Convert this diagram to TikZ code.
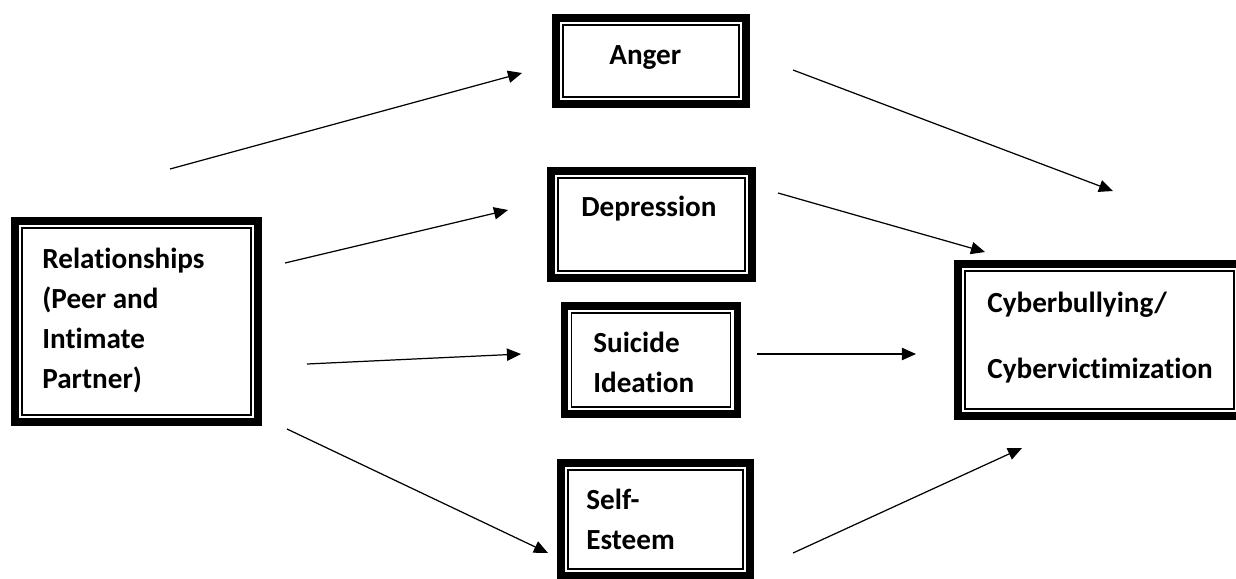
\documentclass[tikz,border=0pt]{standalone}
\usepackage{fontspec}
\setmainfont[Ligatures={NoCommon,NoContextual},Contextuals=NoAlternate]{Carlito}
\usetikzlibrary{arrows.meta}

\tikzset{
  box/.style={draw, line width=4.5pt, rectangle, inner sep=0pt},
  innerline/.style={line width=0.9pt},
  txt/.style={font=\fontsize{16.6}{22.7}\selectfont\bfseries, align=left,
    inner sep=0pt, anchor=north west},
  arr/.style={-{Triangle[length=8pt,width=7pt]}, line width=0.7pt}
}

\begin{document}
\begin{tikzpicture}[x=0.02cm, y=-0.02cm]
\useasboundingbox (0,0) rectangle (1236,578);

% boxes
\node[box, minimum width=3.8cm, minimum height=1.72cm] (anger) at (651,61) {};
\node[box, minimum width=4.02cm, minimum height=2.14cm] (depr) at (651.5,224.5) {};
\node[box, minimum width=3.46cm, minimum height=2.16cm] (suic) at (651,360) {};
\node[box, minimum width=3.78cm, minimum height=2.26cm] (self) at (655.5,519.5) {};
\node[box, minimum width=4.86cm, minimum height=4.02cm] (rel) at (136.5,321.5) {};
\node[box, minimum width=5.66cm, minimum height=3.04cm] (cyber) at (1099.5,340) {};

% thin inner frame
\foreach \b in {anger,depr,suic,self,rel,cyber}
  \draw[innerline] ([xshift=6.3pt,yshift=6.3pt]\b.south west) rectangle
                   ([xshift=-6.3pt,yshift=-6.3pt]\b.north east);

% texts
\node[txt] (anger-t) at (609,45) {Anger};
\node[txt] (depr-t) at (581,196) {Depression};
\node[txt] (suic-t) at (593,332) {Suicide\\Ideation};
\node[txt] (self-t) at (586,489) {Self-\\Esteem};
\node[txt] (rel-t) at (42,248) {Relationships\\(Peer and\\Intimate\\Partner)};
\node[txt] (cyber-t) at (987,292) {Cyberbullying/\\[14.7pt]Cybervictimization};

% arrow ends
\coordinate (r1) at (170,169);   \coordinate (a1) at (522,73);
\coordinate (r2) at (285,263);   \coordinate (d1) at (508,210);
\coordinate (r3) at (307,364);   \coordinate (s1) at (521,354);
\coordinate (r4) at (287,429);   \coordinate (e1) at (548,553);
\coordinate (a2) at (793,70);    \coordinate (c1) at (1113,191);
\coordinate (d2) at (778,193);   \coordinate (c2) at (985,252);
\coordinate (s2) at (757,354);   \coordinate (c3) at (916,354);
\coordinate (e2) at (793,553);   \coordinate (c4) at (1022,448);

\draw[arr] (r1) -- (a1);
\draw[arr] (r2) -- (d1);
\draw[arr] (r3) -- (s1);
\draw[arr] (r4) -- (e1);
\draw[arr] (a2) -- (c1);
\draw[arr] (d2) -- (c2);
\draw[arr] (s2) -- (c3);
\draw[arr] (e2) -- (c4);

\end{tikzpicture}
\end{document}
